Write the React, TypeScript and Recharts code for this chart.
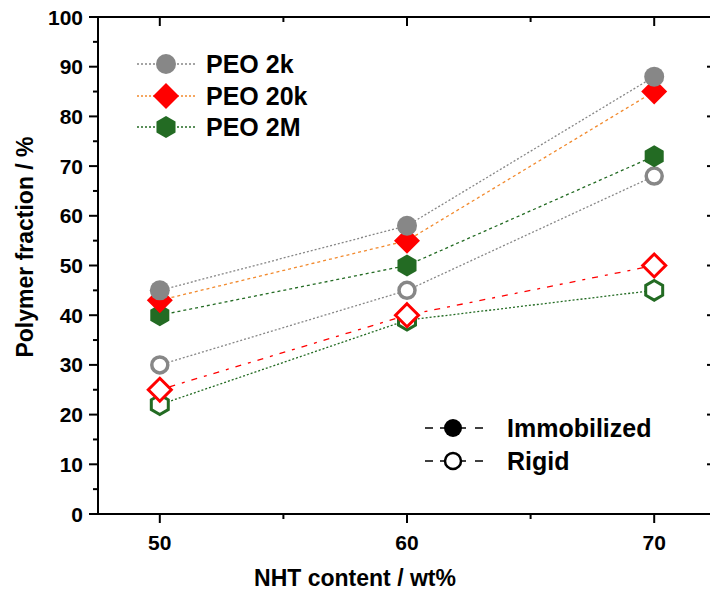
import React from 'react';
import { LineChart, Line, XAxis, YAxis, Customized } from 'recharts';

const nhtContent = [50, 60, 70];
const peo2kImmobilized = [45, 58, 88];
const peo20kImmobilized = [43, 55, 85];
const peo2MImmobilized = [40, 50, 72];
const peo2kRigid = [30, 45, 68];
const peo20kRigid = [25, 40, 50];
const peo2MRigid = [22, 39, 45];

const xTicks = [50, 55, 60, 65, 70];
const yTicks = [0, 5, 10, 15, 20, 25, 30, 35, 40, 45, 50, 55, 60, 65, 70, 75, 80, 85, 90, 95, 100];
const yTicksRight = [0, 10, 20, 30, 40, 50, 60, 70, 80, 90, 100];

const data = nhtContent.map((x, i) => ({
  x,
  i2k: peo2kImmobilized[i],
  i20k: peo20kImmobilized[i],
  i2M: peo2MImmobilized[i],
  r2k: peo2kRigid[i],
  r20k: peo20kRigid[i],
  r2M: peo2MRigid[i],
}));

const FONT = "Arial, 'Liberation Sans', sans-serif";
const GRAY = '#878787';
const RED = '#ff0000';
const GREEN = '#236b23';
const ORANGE = '#f28a2e';

type Kind = 'circle' | 'diamond' | 'hexagon';

function marker(kind: Kind, cx: number, cy: number, filled: boolean, color: string, key?: any) {
  if (kind === 'circle') {
    return filled ? (
      <circle key={key} cx={cx} cy={cy} r={10} fill={color} />
    ) : (
      <circle key={key} cx={cx} cy={cy} r={8} fill="#fff" stroke={color} strokeWidth={3.5} />
    );
  }
  if (kind === 'diamond') {
    const h = filled ? 13 : 11.5;
    const pts = `${cx},${cy - h} ${cx + h},${cy} ${cx},${cy + h} ${cx - h},${cy}`;
    return filled ? (
      <polygon key={key} points={pts} fill={color} />
    ) : (
      <polygon key={key} points={pts} fill="#fff" stroke={color} strokeWidth={3} />
    );
  }
  const r = filled ? 11 : 9.8;
  const pts = [0, 1, 2, 3, 4, 5]
    .map((k) => {
      const a = ((-90 + 60 * k) * Math.PI) / 180;
      return `${cx + r * Math.cos(a)},${cy + r * Math.sin(a)}`;
    })
    .join(' ');
  return filled ? (
    <polygon key={key} points={pts} fill={color} />
  ) : (
    <polygon key={key} points={pts} fill="#fff" stroke={color} strokeWidth={3} />
  );
}

const dotFn = (kind: Kind, filled: boolean, color: string) => (p: any) => {
  if (p.cx == null || p.cy == null) return <g key={p.index} />;
  return <g key={`d-${p.index}`}>{marker(kind, p.cx, p.cy, filled, color)}</g>;
};

const BottomTick = (p: any) => {
  const v = p.payload.value;
  const major = v % 10 === 0;
  return (
    <g>
      <line x1={p.x} y1={p.y} x2={p.x} y2={p.y + (major ? 9 : 5)} stroke="#000" strokeWidth={2} />
      {major && (
        <text x={p.x} y={p.y + 36} textAnchor="middle" fontSize={21} fontWeight="bold" fontFamily={FONT} fill="#000">
          {v}
        </text>
      )}
    </g>
  );
};

const TopTick = (p: any) => {
  const v = p.payload.value;
  const major = v % 10 === 0;
  return <line x1={p.x} y1={p.y} x2={p.x} y2={p.y + (major ? 9 : 5)} stroke="#000" strokeWidth={2} />;
};

const LeftTick = (p: any) => {
  const v = p.payload.value;
  const major = v % 10 === 0;
  return (
    <g>
      <line x1={p.x - (major ? 9 : 5)} y1={p.y} x2={p.x} y2={p.y} stroke="#000" strokeWidth={2} />
      {major && (
        <text x={p.x - 15} y={p.y + 7.5} textAnchor="end" fontSize={21} fontWeight="bold" fontFamily={FONT} fill="#000">
          {v}
        </text>
      )}
    </g>
  );
};

const RightTick = (p: any) => (
  <line x1={p.x - 9} y1={p.y} x2={p.x} y2={p.y} stroke="#000" strokeWidth={2} />
);

const legendRows = [
  { label: 'PEO 2k', kind: 'circle' as Kind, color: GRAY, line: GRAY, dash: '2 2', y: 64 },
  { label: 'PEO 20k', kind: 'diamond' as Kind, color: RED, line: ORANGE, dash: '2 2', y: 96 },
  { label: 'PEO 2M', kind: 'hexagon' as Kind, color: GREEN, line: GREEN, dash: '2 2', y: 127 },
];

const Legends = () => (
  <g>
    {legendRows.map((r) => (
      <g key={r.label}>
        <line x1={137} y1={r.y} x2={196} y2={r.y} stroke={r.line} strokeWidth={1.3} strokeDasharray={r.dash} />
        {marker(r.kind, 166, r.y, true, r.color)}
        <text x={206} y={r.y + 9} fontSize={25} fontWeight="bold" fontFamily={FONT} fill="#000">
          {r.label}
        </text>
      </g>
    ))}
    {[
      { label: 'Immobilized', filled: true, y: 428 },
      { label: 'Rigid', filled: false, y: 461 },
    ].map((r) => (
      <g key={r.label}>
        <line x1={425} y1={r.y} x2={433} y2={r.y} stroke="#000" strokeWidth={1.5} />
        <line x1={475} y1={r.y} x2={483} y2={r.y} stroke="#000" strokeWidth={1.5} />
        <line x1={440} y1={r.y} x2={466} y2={r.y} stroke="#000" strokeWidth={1.5} />
        {r.filled ? (
          <circle cx={453} cy={r.y} r={9} fill="#000" />
        ) : (
          <circle cx={453} cy={r.y} r={8} fill="#fff" stroke="#000" strokeWidth={2.5} />
        )}
        <text x={507} y={r.y + 9} fontSize={25} fontWeight="bold" fontFamily={FONT} fill="#000">
          {r.label}
        </text>
      </g>
    ))}
  </g>
);

const YTitle = () => (
  <text
    x={33}
    y={247}
    transform="rotate(-90, 33, 247)"
    textAnchor="middle"
    fontSize={23}
    fontWeight="bold"
    fontFamily={FONT}
    fill="#000"
  >
    Polymer fraction / %
  </text>
);

const XTitle = () => (
  <text x={355} y={586} textAnchor="middle" fontSize={23} fontWeight="bold" fontFamily={FONT} fill="#000">
    NHT content / wt%
  </text>
);

export default function App() {
  return (
    <div style={{ position: 'absolute', left: 0, top: 0, width: 710, height: 595, overflow: 'hidden', background: '#fff' }}>
      <LineChart width={730} height={595} data={data} margin={{ top: 17, right: 14, bottom: 0, left: 0 }}>
        <XAxis
          xAxisId="b"
          dataKey="x"
          type="number"
          domain={[47.5, 72.5]}
          ticks={xTicks}
          interval={0}
          allowDataOverflow
          height={81}
          tickSize={0}
          tickMargin={0}
          tickLine={false}
          axisLine={{ stroke: '#000', strokeWidth: 2 }}
          tick={<BottomTick />}
          label={{ content: () => <XTitle /> }}
        />
        <XAxis
          xAxisId="t"
          dataKey="x"
          type="number"
          orientation="top"
          mirror
          domain={[47.5, 72.5]}
          ticks={xTicks}
          interval={0}
          allowDataOverflow
          tickSize={0}
          tickMargin={0}
          tickLine={false}
          axisLine={{ stroke: '#000', strokeWidth: 2 }}
          tick={<TopTick />}
        />
        <YAxis
          yAxisId="l"
          type="number"
          domain={[0, 100]}
          ticks={yTicks}
          interval={0}
          allowDataOverflow
          width={98}
          tickSize={0}
          tickMargin={0}
          tickLine={false}
          axisLine={{ stroke: '#000', strokeWidth: 2 }}
          tick={<LeftTick />}
          label={{ content: () => <YTitle /> }}
        />
        <YAxis
          yAxisId="r"
          type="number"
          orientation="right"
          mirror
          domain={[0, 100]}
          ticks={yTicksRight}
          interval={0}
          allowDataOverflow
          tickSize={0}
          tickMargin={0}
          tickLine={false}
          axisLine={false}
          tick={<RightTick />}
        />
        <Line xAxisId="b" yAxisId="l" dataKey="r2M" stroke={GREEN} strokeWidth={1.3} strokeDasharray="2 2" dot={dotFn('hexagon', false, GREEN)} isAnimationActive={false} />
        <Line xAxisId="b" yAxisId="l" dataKey="r20k" stroke={RED} strokeWidth={1.3} strokeDasharray="3 7 6 7" dot={dotFn('diamond', false, RED)} isAnimationActive={false} />
        <Line xAxisId="b" yAxisId="l" dataKey="r2k" stroke={GRAY} strokeWidth={1.3} strokeDasharray="2 2" dot={dotFn('circle', false, GRAY)} isAnimationActive={false} />
        <Line xAxisId="b" yAxisId="l" dataKey="i2M" stroke={GREEN} strokeWidth={1.3} strokeDasharray="3 3" dot={dotFn('hexagon', true, GREEN)} isAnimationActive={false} />
        <Line xAxisId="b" yAxisId="l" dataKey="i20k" stroke={ORANGE} strokeWidth={1.3} strokeDasharray="3 3" dot={dotFn('diamond', true, RED)} isAnimationActive={false} />
        <Line xAxisId="b" yAxisId="l" dataKey="i2k" stroke={GRAY} strokeWidth={1.3} strokeDasharray="2 2" dot={dotFn('circle', true, GRAY)} isAnimationActive={false} />
        <Customized component={<Legends />} />
      </LineChart>
    </div>
  );
}
